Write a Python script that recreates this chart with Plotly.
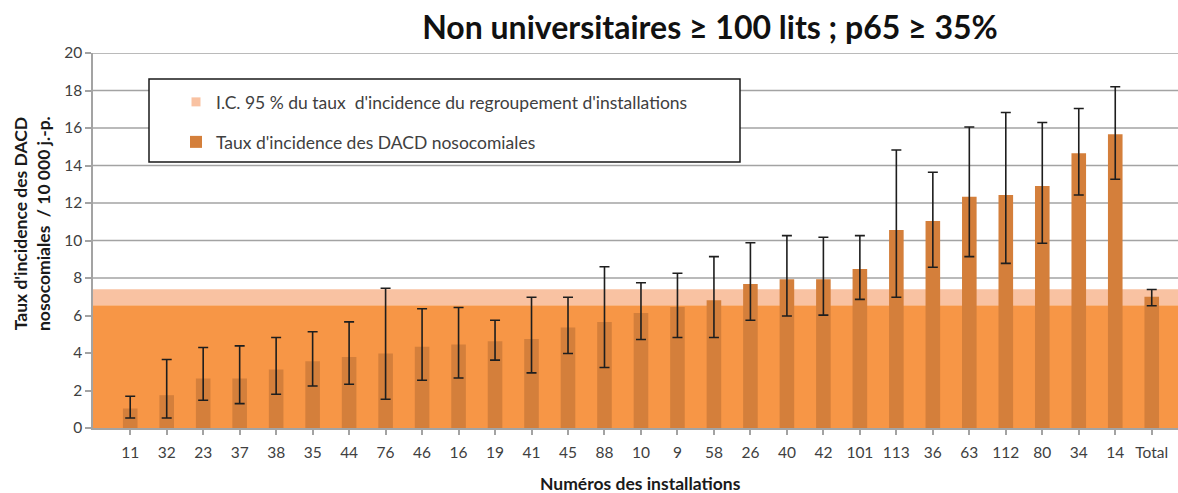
import plotly.graph_objects as go

# ---- data ----
categories = ["11", "32", "23", "37", "38", "35", "44", "76", "46", "16", "19", "41", "45", "88",
              "10", "9", "58", "26", "40", "42", "101", "113", "36", "63", "112", "80", "34", "14", "Total"]
rates = [1.04, 1.75, 2.64, 2.64, 3.12, 3.56, 3.79, 3.97, 4.33, 4.45, 4.63, 4.75, 5.36, 5.65,
         6.14, 6.46, 6.82, 7.68, 7.94, 7.94, 8.48, 10.56, 11.04, 12.34, 12.43, 12.91, 14.66, 15.67, 7.00]
ci_high = [1.69, 3.65, 4.29, 4.38, 4.83, 5.13, 5.66, 7.45, 6.36, 6.43, 5.75, 6.97, 6.97, 8.60,
           7.75, 8.25, 9.14, 9.88, 10.26, 10.17, 10.26, 14.83, 13.64, 16.05, 16.83, 16.29, 17.04, 18.20, 7.39]
ci_low = [0.53, 0.53, 1.48, 1.30, 1.80, 2.24, 2.33, 1.53, 2.55, 2.67, 3.62, 2.94, 3.97, 3.23,
          4.72, 4.83, 4.83, 5.75, 5.97, 6.02, 6.86, 6.97, 8.57, 9.14, 8.78, 9.85, 12.43, 13.27, 6.52]
group_ci_low = 6.55
group_ci_high = 7.40
y_ticks = [0, 2, 4, 6, 8, 10, 12, 14, 16, 18, 20]

title_text = "Non universitaires ≥ 100 lits ; p65 ≥ 35%"
legend_ci = "I.C. 95 % du taux  d'incidence du regroupement d'installations"
legend_rate = "Taux d'incidence des DACD nosocomiales"
y_title = "Taux d'incidence des DACD<br>nosocomiales  / 10 000 j.-p."
x_title = "Numéros des installations"

# ---- styling ----
FONT = "Lato, 'Open Sans', sans-serif"
BAR_COLOR = "#D47F3B"
BAND_DARK = "#F79646"
BAND_LIGHT = "#F9C2A2"
GRID = "#A3A3A3"
TEXT = "#404040"

W, H = 1178, 493
ML, MR, MT, MB = 93, 0, 53, 65
pw = W - ML - MR
ph = H - MT - MB


def px_to_paper_x(px):
    return (px - ML) / pw


def px_to_paper_y(py):
    return (H - MB - py) / ph


xpos = list(range(len(categories)))
err_plus = [h - v for h, v in zip(ci_high, rates)]
err_minus = [v - l for v, l in zip(rates, ci_low)]

fig = go.Figure()

# legend-only marker for CI band
fig.add_trace(go.Scatter(
    x=[None], y=[None], mode="markers", name=legend_ci,
    marker=dict(symbol="square", size=9, color=BAND_LIGHT),
    legend="legend", showlegend=True, hoverinfo="skip"))

fig.add_trace(go.Bar(
    x=xpos, y=rates, name=legend_rate, width=0.4,
    marker=dict(color=BAR_COLOR, line=dict(width=0)),
    error_y=dict(type="data", symmetric=False, array=err_plus, arrayminus=err_minus,
                 color="#1E1E1E", thickness=1.6, width=5),
    legend="legend2", showlegend=True))

# gridlines first (below), then the bands hide them
shapes = [dict(type="line", xref="paper", yref="y", x0=0, x1=1, y0=t, y1=t,
               line=dict(color=GRID, width=1.5), layer="below") for t in y_ticks[1:]]
shapes += [
    dict(type="rect", xref="paper", yref="y", x0=0, x1=1, y0=0, y1=group_ci_low,
         fillcolor=BAND_DARK, line=dict(width=0), layer="below"),
    dict(type="rect", xref="paper", yref="y", x0=0, x1=1, y0=group_ci_low, y1=group_ci_high,
         fillcolor=BAND_LIGHT, line=dict(width=0), layer="below"),
    # legend frame
    dict(type="rect", xref="paper", yref="paper",
         x0=px_to_paper_x(149), x1=px_to_paper_x(740),
         y0=px_to_paper_y(162), y1=px_to_paper_y(79),
         fillcolor="white", line=dict(color="#1A1A1A", width=1.5), layer="above"),
]

fig.update_layout(
    width=W, height=H,
    margin=dict(l=ML, r=MR, t=MT, b=MB, pad=0),
    paper_bgcolor="white", plot_bgcolor="white",
    font=dict(family=FONT, size=15, color=TEXT),
    shapes=shapes,
    title=dict(text="<b>" + title_text + "</b>", x=710 / W, xanchor="center",
               y=1 - 28 / H, yanchor="middle", xref="container", yref="container",
               font=dict(family=FONT, size=32, color="#111111")),
    legend=dict(x=px_to_paper_x(176), y=px_to_paper_y(102), xanchor="left", yanchor="middle",
                bgcolor="rgba(0,0,0,0)", borderwidth=0, itemwidth=30,
                font=dict(family=FONT, size=17.5, color=TEXT)),
    legend2=dict(x=px_to_paper_x(176), y=px_to_paper_y(142), xanchor="left", yanchor="middle",
                 bgcolor="rgba(0,0,0,0)", borderwidth=0, itemwidth=30,
                 font=dict(family=FONT, size=17.5, color=TEXT)),
    xaxis=dict(range=[-1.02, len(categories) - 0.28], tickmode="array", tickvals=xpos,
               ticktext=categories, showgrid=False, zeroline=False,
               showline=True, linecolor=GRID, linewidth=1.5, layer="above traces",
               ticks="outside", ticklen=5, tickcolor=GRID, tickwidth=1.5,
               ticklabelstandoff=5,
               tickfont=dict(family=FONT, size=15.5, color=TEXT)),
    yaxis=dict(range=[0, 20], tickmode="array", tickvals=y_ticks, showgrid=False,
               zeroline=False, showline=True, linecolor=GRID, linewidth=1.5,
               ticks="outside", ticklen=6, tickcolor=GRID, tickwidth=1.5,
               tickfont=dict(family=FONT, size=15.5, color=TEXT)),
    annotations=[
        dict(text="<b>" + y_title + "</b>", xref="paper", yref="paper",
             x=px_to_paper_x(32), y=px_to_paper_y(224), xanchor="center", yanchor="middle",
             textangle=-90, showarrow=False, align="center",
             font=dict(family=FONT, size=17.5, color="#1A1A1A")),
        dict(text="<b>" + x_title + "</b>", xref="paper", yref="paper",
             x=px_to_paper_x(640), y=px_to_paper_y(483), xanchor="center", yanchor="middle",
             showarrow=False, font=dict(family=FONT, size=17.5, color="#1A1A1A")),
    ],
)

fig.write_html("out.html", config={"displayModeBar": False},
               post_script="document.body.style.margin='0px';")
